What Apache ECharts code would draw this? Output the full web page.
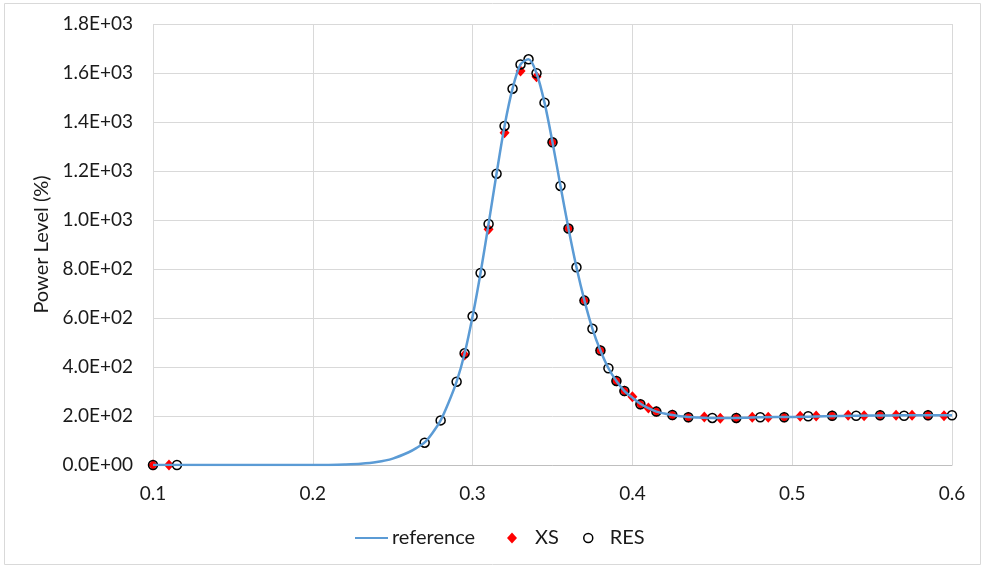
<!DOCTYPE html>
<html>
<head>
<meta charset="utf-8">
<script src="https://cdn.jsdelivr.net/npm/echarts@6/dist/echarts.min.js"></script>
<style>
    html, body { margin: 0; padding: 0; background: #fff; }
    #chart { width: 982px; height: 566px; }
</style>
</head>
<body>
<div id="chart"></div>
<script>
// reference curve
var refX = [0.1, 0.15, 0.2, 0.21, 0.22, 0.23, 0.24, 0.25, 0.26, 0.265, 0.27, 0.275, 0.28, 0.285, 0.29, 0.295, 0.3, 0.305, 0.31, 0.315, 0.32, 0.325, 0.33, 0.335, 0.34, 0.345, 0.35, 0.355, 0.36, 0.365, 0.37, 0.375, 0.38, 0.385, 0.39, 0.395, 0.4, 0.405, 0.41, 0.415, 0.42, 0.425, 0.43, 0.435, 0.44, 0.45, 0.46, 0.47, 0.48, 0.5, 0.52, 0.54, 0.56, 0.58, 0.6];
var refY = [0, 0, 0, 0.5, 2, 5, 12, 26, 52, 70, 92, 132, 182, 255, 340, 455, 607, 785, 984, 1190, 1384, 1536, 1635, 1656, 1599, 1479, 1317, 1139, 965, 807, 671, 556, 467, 395, 343, 302, 275, 250, 232, 218, 210, 204, 199, 196, 194, 192, 192, 193, 195, 196, 199, 201, 202, 203, 203];
// XS points
var xsX = [0.1, 0.11, 0.295, 0.31, 0.32, 0.33, 0.34, 0.35, 0.36, 0.37, 0.38, 0.39, 0.395, 0.4, 0.405, 0.41, 0.415, 0.425, 0.435, 0.445, 0.455, 0.465, 0.475, 0.485, 0.495, 0.505, 0.515, 0.525, 0.535, 0.545, 0.555, 0.565, 0.575, 0.585, 0.595];
var xsY = [0, 0, 449, 962, 1356, 1608, 1585, 1317, 965, 671, 467, 343, 302, 279, 248, 233, 218, 204, 195, 196, 191, 192, 195, 195, 195, 199, 200, 201, 203, 201, 203, 203, 203, 203, 201];
// RES points
var resX = [0.1, 0.115, 0.27, 0.28, 0.29, 0.295, 0.3, 0.305, 0.31, 0.315, 0.32, 0.325, 0.33, 0.335, 0.34, 0.345, 0.35, 0.355, 0.36, 0.365, 0.37, 0.375, 0.38, 0.385, 0.39, 0.395, 0.405, 0.415, 0.425, 0.435, 0.45, 0.465, 0.48, 0.495, 0.51, 0.525, 0.54, 0.555, 0.57, 0.585, 0.6];
var resY = [0, 0, 91, 182, 340, 456, 607, 784, 984, 1189, 1384, 1536, 1635, 1656, 1599, 1479, 1317, 1139, 965, 807, 671, 556, 467, 395, 343, 302, 248, 218, 204, 195, 192, 192, 195, 195, 199, 201, 201, 203, 201, 203, 203];

function pairs(xs, ys) {
    return xs.map(function (x, i) { return [x, ys[i]]; });
}

function sci(v) {
    if (v === 0) return '0.0E+00';
    var e = Math.floor(Math.log10(Math.abs(v)) + 1e-9);
    var m = v / Math.pow(10, e);
    return m.toFixed(1) + 'E' + (e < 0 ? '-' : '+') + String(Math.abs(e)).padStart(2, '0');
}

var FONT = 'Lato';
var TXT = '#1a1a1a';
var myChart = echarts.init(document.getElementById('chart'));
myChart.setOption({
    animation: false,
    textStyle: { fontFamily: FONT },
    graphic: [{
        type: 'rect',
        shape: { x: 4.5, y: 3.5, width: 976, height: 561 },
        style: { fill: 'none', stroke: '#d9d9d9', lineWidth: 1 },
        silent: true
    }],
    grid: { left: 153, right: 30, top: 24, bottom: 101 },
    xAxis: {
        type: 'value',
        min: 0.1,
        max: 0.6,
        interval: 0.1,
        axisLine: { show: true, lineStyle: { color: '#bfbfbf', width: 1 } },
        axisTick: { show: false },
        splitLine: { show: true, lineStyle: { color: '#d9d9d9', width: 1 } },
        axisLabel: {
            color: TXT, fontSize: 19, fontFamily: FONT, margin: 19,
            formatter: function (v) { return String(+v.toFixed(1)); }
        }
    },
    yAxis: {
        type: 'value',
        min: 0,
        max: 1800,
        interval: 200,
        name: 'Power Level (%)',
        nameLocation: 'middle',
        nameGap: 101,
        nameTextStyle: { color: TXT, fontSize: 20, fontFamily: FONT },
        axisLine: { show: false },
        axisTick: { show: false },
        splitLine: { show: true, lineStyle: { color: '#d9d9d9', width: 1 } },
        axisLabel: { color: TXT, fontSize: 19, fontFamily: FONT, margin: 20, formatter: sci }
    },
    legend: [{
        left: 355, top: 528,
        itemWidth: 33, itemHeight: 12, itemGap: 10, padding: 0,
        textStyle: { color: TXT, fontSize: 20, fontFamily: FONT, padding: [0, 0, 0, -1] },
        data: [{ name: 'reference', icon: 'path://M0,5 L33,5 L33,7 L0,7 Z', itemStyle: { color: '#5b9bd5' } }]
    }, {
        left: 507, top: 528,
        itemWidth: 10, itemHeight: 11, itemGap: 10, padding: 0,
        textStyle: { color: TXT, fontSize: 20, fontFamily: FONT, padding: [0, 0, 0, 13] },
        data: [{ name: 'XS', icon: 'diamond', itemStyle: { color: '#ff0000' } }]
    }, {
        left: 583, top: 528,
        itemWidth: 9, itemHeight: 9, itemGap: 12, padding: 0,
        textStyle: { color: TXT, fontSize: 20, fontFamily: FONT, padding: [0, 0, 0, 12] },
        data: [{ name: 'RES', icon: 'circle', itemStyle: { color: 'transparent', borderColor: '#000', borderWidth: 1.5 } }]
    }],
    series: [{
        name: 'reference',
        type: 'line',
        data: pairs(refX, refY),
        smooth: 0.3,
        symbol: 'none',
        lineStyle: { color: '#5b9bd5', width: 2.5 },
        itemStyle: { color: '#5b9bd5' }
    }, {
        name: 'XS',
        type: 'scatter',
        data: pairs(xsX, xsY),
        symbol: 'diamond',
        symbolSize: [10, 11],
        itemStyle: { color: '#ff0000', opacity: 1 }
    }, {
        name: 'RES',
        type: 'scatter',
        data: pairs(resX, resY),
        symbol: 'circle',
        symbolSize: 9,
        itemStyle: { color: 'transparent', borderColor: '#000', borderWidth: 1.5, opacity: 1 }
    }]
});
</script>
</body>
</html>
